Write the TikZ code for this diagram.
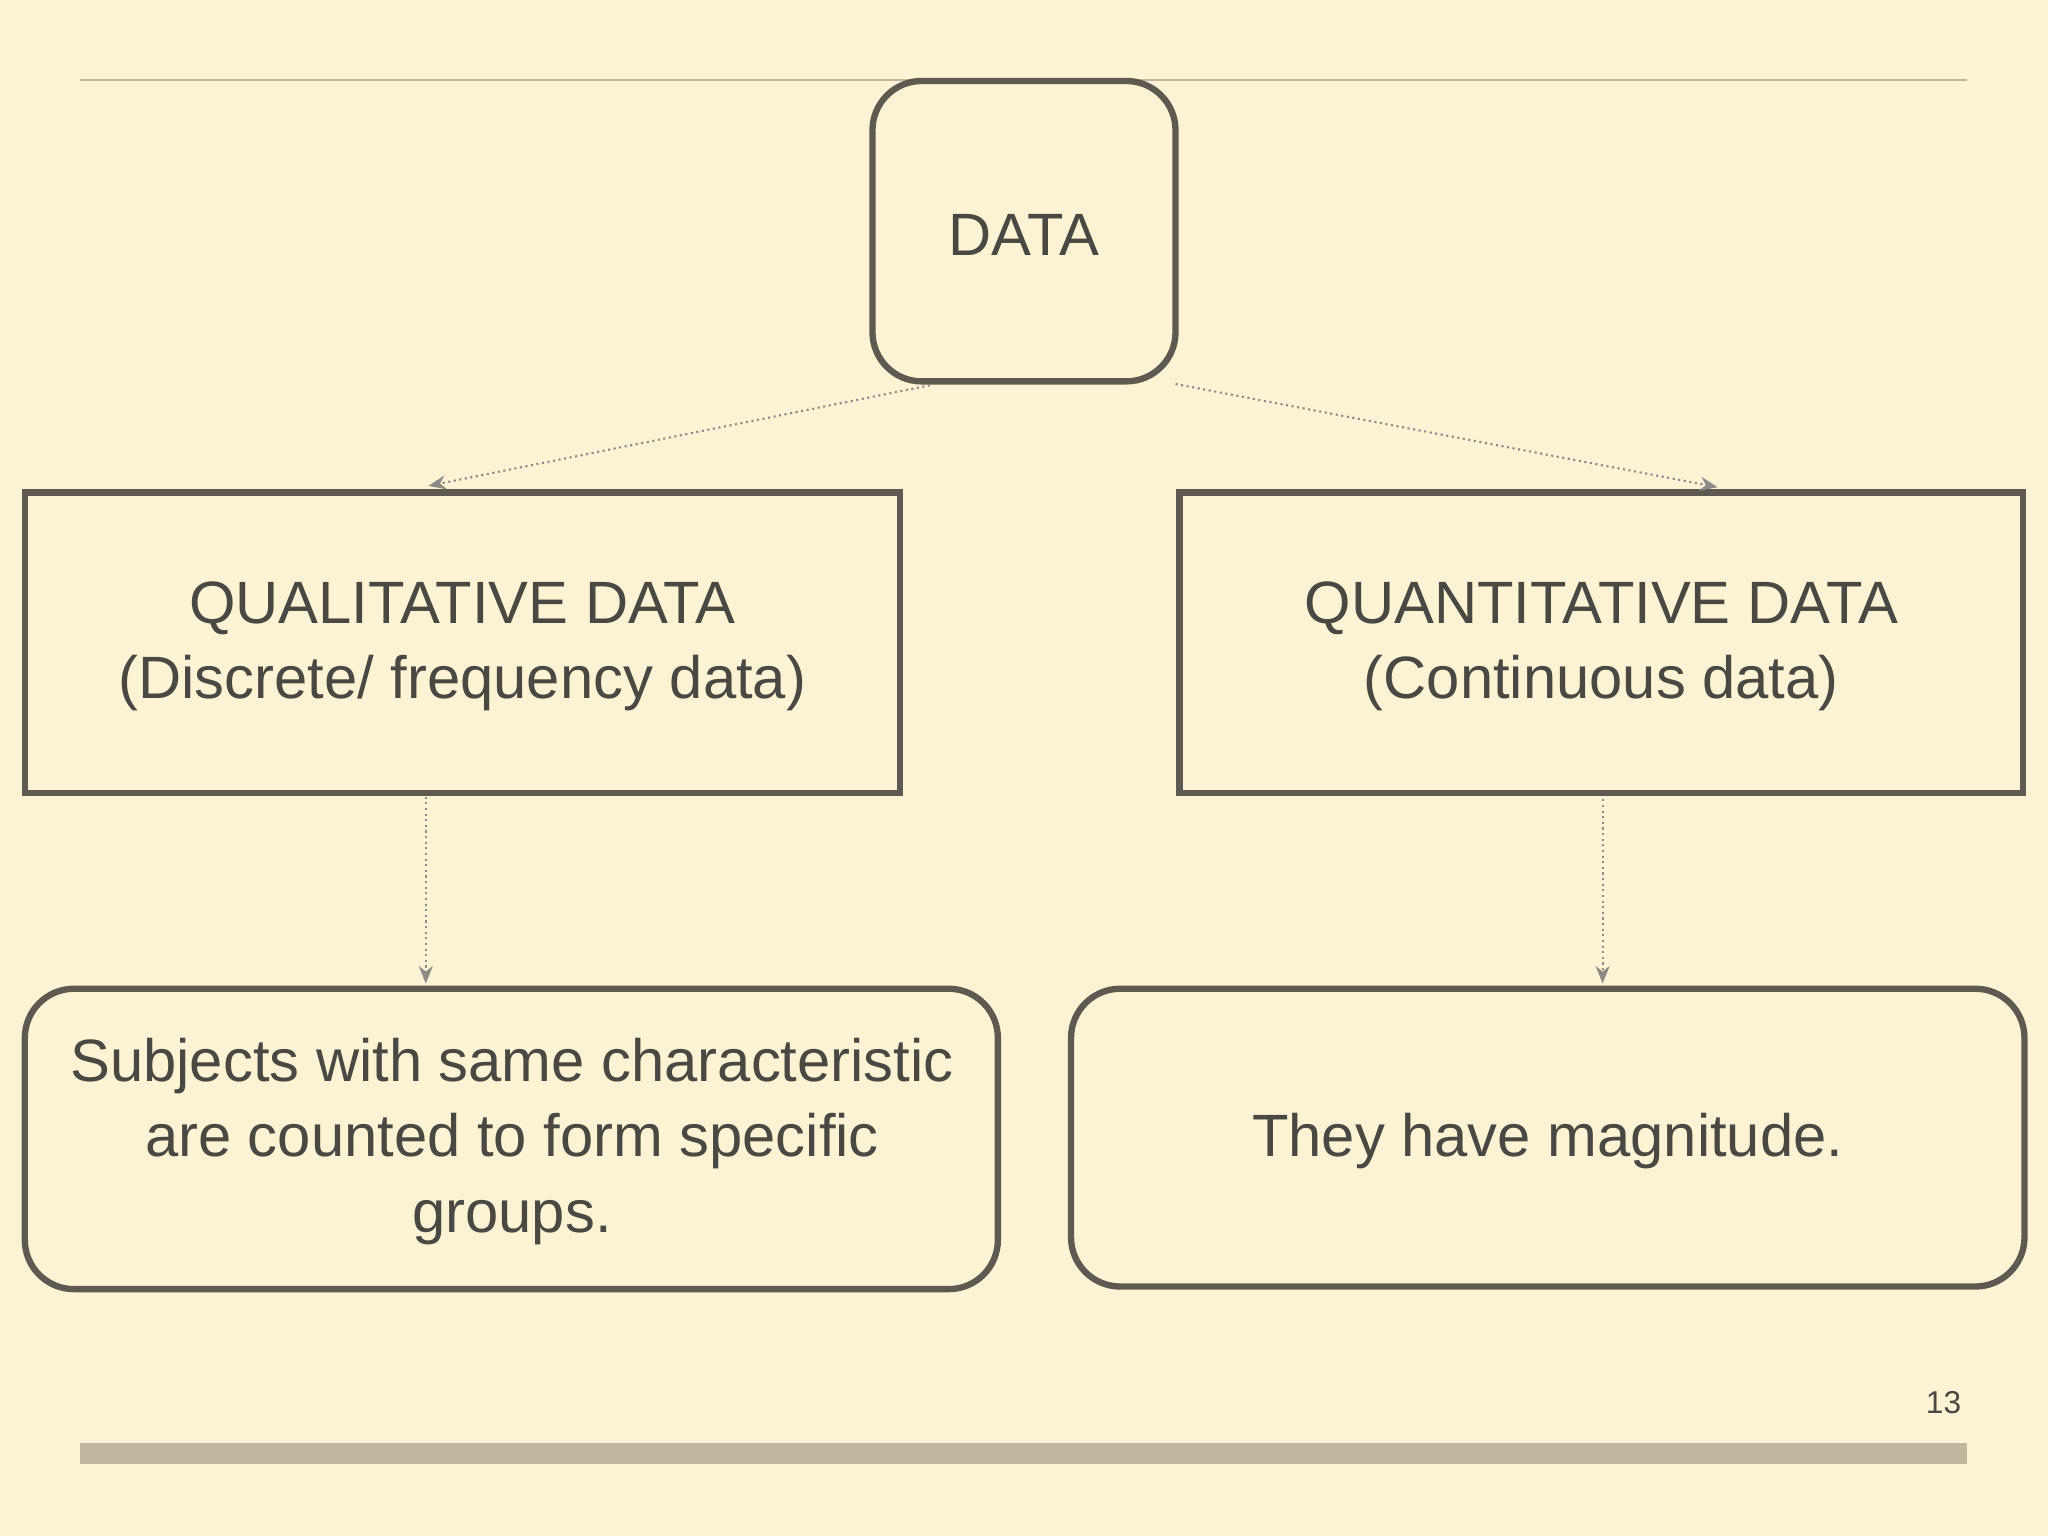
\documentclass[tikz,border=0pt]{standalone}
\usepackage{fontspec}
\setmainfont{Liberation Sans}
\usetikzlibrary{arrows.meta}
\definecolor{bg}{HTML}{FBF3D3}
\definecolor{edge}{HTML}{5E5A52}
\definecolor{txt}{HTML}{4A4842}
\definecolor{rule}{HTML}{BFB79E}
\tikzset{
  box/.style={draw=edge,line width=1.8pt},
  lbl/.style={text=txt,font=\fontsize{17}{21.5}\selectfont,align=center},
  conn/.style={draw=edge!70,densely dotted,line width=0.6pt,-{Stealth[length=5pt,width=4pt]}}
}
\begin{document}
\begin{tikzpicture}[x=0.013061cm,y=-0.013061cm]
\fill[bg] (0,0) rectangle (1568,1176);
\useasboundingbox (0,0) rectangle (1568,1176);
\draw[rule,line width=0.6pt] (61,61) -- (1506,61);
\draw[rule,line width=6pt] (61,1113) -- (1506,1113);
\draw[box,rounded corners=14pt] (668,62) rectangle (900,292);
\node[lbl] (dl) at (784,180) {DATA};
\draw[box] (19,377) rectangle (689,607);
\node[lbl] (ql) at (354,495) {QUALITATIVE DATA\\(Discrete/ frequency data)};
\draw[box] (903,377) rectangle (1549,607);
\node[lbl] (qn) at (1226,495) {QUANTITATIVE DATA\\(Continuous data)};
\draw[box,rounded corners=14pt] (19,757) rectangle (764,987);
\node[lbl] (bl) at (392,874) {Subjects with same characteristic\\are counted to form specific\\groups.};
\draw[box,rounded corners=14pt] (820,757) rectangle (1550,985);
\node[lbl] (br) at (1185,874) {They have magnitude.};
\coordinate (a1) at (712,295); \coordinate (a2) at (328,372);
\coordinate (b1) at (900,294); \coordinate (b2) at (1315,373);
\coordinate (c1) at (326,610); \coordinate (c2) at (326,753);
\coordinate (d1) at (1227,612); \coordinate (d2) at (1227,753);
\draw[conn] (a1) -- (a2);
\draw[conn] (b1) -- (b2);
\draw[conn] (c1) -- (c2);
\draw[conn] (d1) -- (d2);
\node[text=txt,font=\fontsize{9}{11}\selectfont] (pg) at (1488,1074) {13};
\end{tikzpicture}
\end{document}
